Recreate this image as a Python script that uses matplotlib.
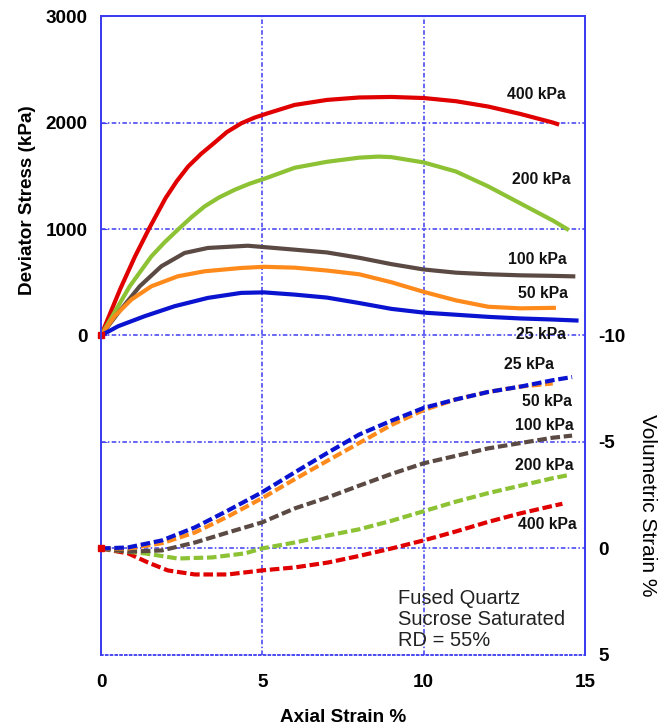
import matplotlib
matplotlib.use("Agg")
import matplotlib.pyplot as plt

plt.rcParams['font.family'] = ['Liberation Sans', 'DejaVu Sans']

# ---- Deviator stress (kPa) vs axial strain (%) ----
x400 = [0, 0.6, 1.05, 1.5, 2.0, 2.35, 2.7, 3.1, 3.5, 3.9, 4.35, 4.75, 5.17, 6, 7, 8, 9, 10, 11, 12, 13, 14, 14.2]
q400 = [0, 440, 740, 1010, 1290, 1450, 1587, 1705, 1806, 1910, 1993, 2045, 2087, 2165, 2212, 2235, 2240, 2230, 2200, 2150, 2080, 2000, 1980]

x200 = [0, 0.89, 1.56, 1.97, 2.38, 2.8, 3.21, 3.65, 4.14, 4.6, 5.12, 6, 7, 8, 8.6, 9, 10, 11, 12, 13, 14, 14.5]
q200 = [0, 462, 743, 875, 993, 1110, 1212, 1295, 1368, 1425, 1478, 1575, 1631, 1670, 1680, 1675, 1625, 1540, 1400, 1240, 1080, 990]

x100 = [0, 0.53, 1.2, 1.87, 2.59, 3.31, 4.55, 6, 7, 8, 9, 10, 11, 12, 13, 14, 14.7]
q100 = [0, 212, 462, 650, 775, 822, 843, 806, 780, 730, 670, 620, 590, 575, 565, 560, 555]

x50 = [0, 0.42, 0.94, 1.56, 2.38, 3.21, 4.34, 5.05, 6, 7, 8, 9, 10, 11, 12, 13, 14.1]
q50 = [0, 181, 337, 462, 556, 603, 634, 645, 637, 610, 575, 500, 410, 330, 270, 255, 260]

x25 = [0, 0.53, 1.35, 2.28, 3.31, 4.34, 5.05, 6, 7, 8, 9, 10, 11, 12, 13, 14, 14.8]
q25 = [0, 87, 181, 275, 353, 400, 405, 384, 356, 305, 250, 215, 195, 175, 160, 150, 140]

# ---- Volumetric strain (%) vs axial strain (%) ----
vx25 = [0, 0.84, 1.89, 2.91, 3.93, 4.98, 6, 7.03, 8, 9, 10, 11, 12, 13, 14, 14.6]
v25 = [0, -0.05, -0.38, -0.99, -1.78, -2.63, -3.57, -4.5, -5.35, -6.0, -6.6, -7.0, -7.35, -7.6, -7.9, -8.05]

vx50 = [0, 0.84, 1.89, 2.91, 3.93, 4.98, 6, 7.03, 8, 9, 10, 11, 12, 13, 14]
v50 = [0, 0, -0.25, -0.75, -1.5, -2.35, -3.25, -4.13, -4.95, -5.8, -6.5, -7.0, -7.35, -7.6, -7.75]

vx100 = [0, 0.84, 1.89, 2.91, 3.93, 4.98, 6, 7.03, 8, 9, 10, 11, 12, 13, 14, 14.6]
v100 = [0, 0.15, 0.09, -0.28, -0.75, -1.22, -1.88, -2.4, -2.95, -3.5, -4.0, -4.35, -4.7, -4.95, -5.2, -5.3]

vx200 = [0, 0.5, 1.36, 2.38, 3.44, 4.46, 4.98, 6, 7.03, 8, 9, 10, 11, 12, 13, 14, 14.5]
v200 = [0, 0.1, 0.23, 0.47, 0.42, 0.23, 0, -0.28, -0.61, -0.9, -1.3, -1.75, -2.2, -2.6, -2.95, -3.3, -3.45]

vx400 = [0, 0.84, 1.46, 2.07, 2.91, 3.93, 4.98, 6, 7.03, 8, 9, 10, 11, 12, 13, 14, 14.3]
v400 = [0, 0.23, 0.66, 1.03, 1.22, 1.22, 1.03, 0.89, 0.66, 0.35, 0.0, -0.38, -0.8, -1.25, -1.65, -2.0, -2.1]

stress_ticks = [0, 1000, 2000, 3000]
vol_ticks = [-10, -5, 0, 5]
x_ticks = [0, 5, 10, 15]

RED = '#e00000'
GREEN = '#8cc234'
BROWN = '#5b4a44'
ORANGE = '#ff8a1c'
BLUE = '#0a14d0'
FRAME = '#3c3cf0'

fig = plt.figure(figsize=(6.65, 7.28), dpi=100)
ax = fig.add_axes([0.1519, 0.1003, 0.7278, 0.8777])
ax.set_xlim(0, 15)
ax.set_ylim(-3000, 3000)

grid_style = dict(color=FRAME, lw=1.1, ls=(0, (3, 1.5, 1, 1.5)), zorder=1)
for gx in [5, 10]:
    ax.axvline(gx, **grid_style)
for gy in [2000, 1000, 0, -1000, -2000]:
    ax.axhline(gy, **grid_style)

for xs, ys, c in [(x400, q400, RED), (x200, q200, GREEN), (x100, q100, BROWN),
                  (x50, q50, ORANGE), (x25, q25, BLUE)]:
    ax.plot(xs, ys, color=c, lw=3, solid_capstyle='butt', solid_joinstyle='round', zorder=3)
ax.plot(x400[:1], q400[:1], ls='none', marker='s', ms=5, color=RED, zorder=4, clip_on=False)

ax2 = ax.twinx()
ax2.set_ylim(5, -25)
dash = (0, (2.3, 0.9))
for xs, ys, c in [(vx400, v400, RED), (vx200, v200, GREEN), (vx100, v100, BROWN),
                  (vx50, v50, ORANGE), (vx25, v25, BLUE)]:
    ax2.plot(xs, ys, color=c, lw=3, ls=dash, zorder=3)
ax2.plot(vx400[:1], v400[:1], ls='none', marker='s', ms=5, color=RED, zorder=4, clip_on=False)

# spines
for a in (ax, ax2):
    for s in ['left', 'top', 'right']:
        a.spines[s].set_color(FRAME)
        a.spines[s].set_linewidth(1.3)
ax.spines['bottom'].set_color(FRAME)
ax.spines['bottom'].set_linestyle(':')
ax.spines['bottom'].set_linewidth(1.3)
ax2.spines['bottom'].set_visible(False)

FS = 13.6
ax.set_xticks(x_ticks)
ax.set_xticklabels([str(t) for t in x_ticks], fontsize=FS, fontweight='bold')
ax.set_yticks(stress_ticks)
ax.set_yticklabels([str(t) for t in stress_ticks], fontsize=FS, fontweight='bold')
ax.set_yticks([-1000, -2000], minor=True)
ax2.set_yticks(vol_ticks)
ax2.set_yticklabels([str(t) for t in vol_ticks], fontsize=FS, fontweight='bold')
ax.tick_params(axis='x', length=0, pad=14)
ax.tick_params(axis='y', which='both', direction='in', length=4, color=FRAME, pad=9.5)
ax2.tick_params(axis='y', length=0, pad=9.5)

ax.set_xlabel('Axial Strain %', fontsize=FS, fontweight='bold')
ax.xaxis.set_label_coords(0.5, -0.085)
ax.set_ylabel('Deviator Stress (kPa)', fontsize=FS, fontweight='bold')
ax.yaxis.set_label_coords(-0.134, 0.712)
ax2.set_ylabel('Volumetric Strain %', fontsize=15, rotation=270, va='center', ha='center')
ax2.yaxis.set_label_coords(1.130, 0.234)

lab = dict(fontsize=11.3, fontweight='bold', ha='center', va='center', color='#111111', zorder=5)
ax.text(13.5, 2259, '400 kPa', **lab)
ax.text(13.65, 1462, '200 kPa', **lab)
ax.text(13.53, 712, '100 kPa', **lab)
ax.text(13.69, 394, '50 kPa', **lab)
ax.text(13.65, 9, '25 kPa', **lab)
ax.text(13.25, -272, '25 kPa', **lab)
ax.text(13.81, -619, '50 kPa', **lab)
ax.text(13.75, -844, '100 kPa', **lab)
ax.text(13.75, -1218, '200 kPa', **lab)
ax.text(13.84, -1771, '400 kPa', **lab)

ax.text(9.2, -2385, 'Fused Quartz\nSucrose Saturated\nRD = 55%', fontsize=14.5,
        ha='left', va='top', color='#222222', linespacing=1.12, zorder=5)

fig.savefig('out.png', dpi=100)
